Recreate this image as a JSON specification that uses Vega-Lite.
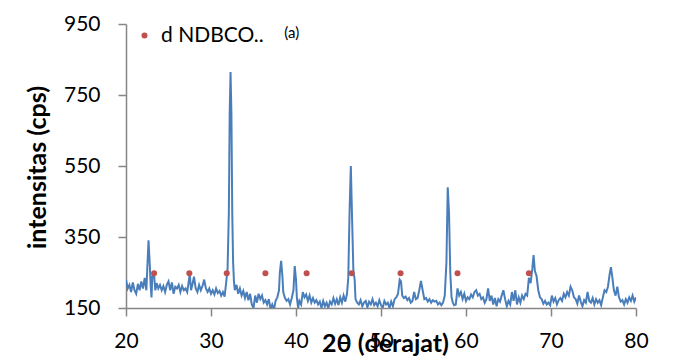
{
  "$schema": "https://vega.github.io/schema/vega-lite/v6.json",
  "width": 510,
  "height": 284,
  "autosize": {"type": "none"},
  "padding": {"left": 126, "top": 24, "right": 40, "bottom": 51},
  "background": "white",
  "config": {
    "view": {"stroke": null},
    "font": "Lato",
    "axis": {"domainColor": "#868686", "tickColor": "#868686", "domainWidth": 1.5, "tickWidth": 1.5, "grid": false, "labelColor": "#000000", "titleColor": "#000000", "labelFont": "Lato", "titleFont": "Lato", "labelFontSize": 21, "titleFontSize": 25, "titleFontWeight": "bold", "tickSize": 8}
  },
  "datasets": {
    "xrd": [
      {"t":20.0,"i":230},{"t":20.2,"i":205},{"t":20.4,"i":215},{"t":20.6,"i":195},{"t":20.8,"i":222},{"t":21.0,"i":200},{"t":21.2,"i":190},{"t":21.4,"i":218},{"t":21.6,"i":200},{"t":21.8,"i":225},{"t":22.0,"i":205},{"t":22.2,"i":235},{"t":22.4,"i":200},{"t":22.5,"i":260},{"t":22.65,"i":341},{"t":22.8,"i":270},{"t":22.9,"i":215},{"t":23.0,"i":180},{"t":23.1,"i":240},{"t":23.3,"i":245},{"t":23.45,"i":200},{"t":23.6,"i":220},{"t":23.8,"i":205},{"t":24.0,"i":215},{"t":24.2,"i":200},{"t":24.4,"i":212},{"t":24.6,"i":195},{"t":24.8,"i":215},{"t":25.0,"i":225},{"t":25.2,"i":200},{"t":25.4,"i":222},{"t":25.6,"i":190},{"t":25.8,"i":210},{"t":26.0,"i":205},{"t":26.2,"i":215},{"t":26.4,"i":195},{"t":26.6,"i":212},{"t":26.8,"i":200},{"t":27.0,"i":205},{"t":27.2,"i":195},{"t":27.35,"i":220},{"t":27.5,"i":245},{"t":27.65,"i":200},{"t":27.8,"i":215},{"t":28.0,"i":238},{"t":28.2,"i":205},{"t":28.4,"i":195},{"t":28.6,"i":215},{"t":28.8,"i":200},{"t":29.0,"i":212},{"t":29.2,"i":230},{"t":29.4,"i":205},{"t":29.6,"i":195},{"t":29.8,"i":205},{"t":30.0,"i":190},{"t":30.2,"i":200},{"t":30.4,"i":188},{"t":30.6,"i":205},{"t":30.8,"i":192},{"t":31.0,"i":198},{"t":31.2,"i":185},{"t":31.4,"i":195},{"t":31.6,"i":182},{"t":31.8,"i":225},{"t":31.95,"i":260},{"t":32.1,"i":420},{"t":32.2,"i":700},{"t":32.3,"i":815},{"t":32.4,"i":700},{"t":32.5,"i":420},{"t":32.6,"i":280},{"t":32.7,"i":225},{"t":32.8,"i":200},{"t":33.0,"i":215},{"t":33.2,"i":190},{"t":33.4,"i":205},{"t":33.6,"i":185},{"t":33.8,"i":198},{"t":34.0,"i":178},{"t":34.2,"i":195},{"t":34.4,"i":172},{"t":34.6,"i":190},{"t":34.8,"i":160},{"t":35.0,"i":150},{"t":35.2,"i":185},{"t":35.4,"i":165},{"t":35.6,"i":190},{"t":35.8,"i":175},{"t":36.0,"i":185},{"t":36.2,"i":165},{"t":36.4,"i":172},{"t":36.6,"i":160},{"t":36.8,"i":175},{"t":37.0,"i":148},{"t":37.2,"i":160},{"t":37.4,"i":145},{"t":37.6,"i":170},{"t":37.8,"i":180},{"t":38.0,"i":200},{"t":38.1,"i":250},{"t":38.25,"i":283},{"t":38.4,"i":240},{"t":38.5,"i":195},{"t":38.7,"i":178},{"t":38.9,"i":170},{"t":39.1,"i":175},{"t":39.3,"i":160},{"t":39.5,"i":178},{"t":39.7,"i":200},{"t":39.85,"i":268},{"t":40.0,"i":230},{"t":40.1,"i":180},{"t":40.25,"i":150},{"t":40.4,"i":170},{"t":40.6,"i":160},{"t":40.8,"i":195},{"t":41.0,"i":180},{"t":41.2,"i":188},{"t":41.4,"i":170},{"t":41.6,"i":185},{"t":41.8,"i":165},{"t":42.0,"i":178},{"t":42.2,"i":165},{"t":42.4,"i":172},{"t":42.6,"i":160},{"t":42.8,"i":168},{"t":43.0,"i":150},{"t":43.2,"i":170},{"t":43.4,"i":155},{"t":43.6,"i":165},{"t":43.8,"i":150},{"t":44.0,"i":168},{"t":44.2,"i":160},{"t":44.4,"i":178},{"t":44.6,"i":162},{"t":44.8,"i":175},{"t":45.0,"i":158},{"t":45.2,"i":180},{"t":45.4,"i":165},{"t":45.6,"i":185},{"t":45.8,"i":168},{"t":46.0,"i":190},{"t":46.15,"i":235},{"t":46.3,"i":420},{"t":46.45,"i":550},{"t":46.6,"i":400},{"t":46.75,"i":255},{"t":46.9,"i":230},{"t":47.0,"i":175},{"t":47.2,"i":165},{"t":47.4,"i":160},{"t":47.6,"i":172},{"t":47.8,"i":155},{"t":48.0,"i":165},{"t":48.2,"i":170},{"t":48.4,"i":152},{"t":48.6,"i":168},{"t":48.8,"i":160},{"t":49.0,"i":175},{"t":49.2,"i":158},{"t":49.4,"i":165},{"t":49.6,"i":155},{"t":49.8,"i":172},{"t":50.0,"i":158},{"t":50.2,"i":150},{"t":50.4,"i":170},{"t":50.6,"i":160},{"t":50.8,"i":165},{"t":51.0,"i":150},{"t":51.2,"i":168},{"t":51.4,"i":155},{"t":51.6,"i":175},{"t":51.8,"i":180},{"t":52.0,"i":190},{"t":52.2,"i":230},{"t":52.35,"i":225},{"t":52.5,"i":185},{"t":52.7,"i":178},{"t":52.9,"i":182},{"t":53.1,"i":172},{"t":53.3,"i":178},{"t":53.5,"i":165},{"t":53.7,"i":170},{"t":53.9,"i":195},{"t":54.1,"i":175},{"t":54.3,"i":178},{"t":54.5,"i":200},{"t":54.7,"i":226},{"t":54.9,"i":200},{"t":55.1,"i":175},{"t":55.3,"i":178},{"t":55.5,"i":168},{"t":55.7,"i":175},{"t":55.9,"i":165},{"t":56.1,"i":172},{"t":56.3,"i":168},{"t":56.5,"i":170},{"t":56.7,"i":160},{"t":56.9,"i":165},{"t":57.1,"i":158},{"t":57.3,"i":165},{"t":57.5,"i":185},{"t":57.7,"i":280},{"t":57.85,"i":490},{"t":58.0,"i":420},{"t":58.15,"i":250},{"t":58.3,"i":180},{"t":58.45,"i":165},{"t":58.6,"i":158},{"t":58.8,"i":160},{"t":59.0,"i":205},{"t":59.2,"i":185},{"t":59.4,"i":195},{"t":59.6,"i":175},{"t":59.8,"i":190},{"t":60.0,"i":170},{"t":60.2,"i":180},{"t":60.4,"i":175},{"t":60.6,"i":188},{"t":60.8,"i":180},{"t":61.0,"i":195},{"t":61.2,"i":200},{"t":61.4,"i":185},{"t":61.6,"i":190},{"t":61.8,"i":175},{"t":62.0,"i":180},{"t":62.2,"i":165},{"t":62.4,"i":175},{"t":62.6,"i":205},{"t":62.8,"i":170},{"t":63.0,"i":185},{"t":63.2,"i":160},{"t":63.4,"i":178},{"t":63.6,"i":155},{"t":63.8,"i":175},{"t":64.0,"i":168},{"t":64.2,"i":185},{"t":64.4,"i":200},{"t":64.6,"i":175},{"t":64.8,"i":155},{"t":65.0,"i":170},{"t":65.2,"i":160},{"t":65.4,"i":195},{"t":65.6,"i":170},{"t":65.8,"i":200},{"t":66.0,"i":160},{"t":66.2,"i":180},{"t":66.4,"i":165},{"t":66.6,"i":185},{"t":66.8,"i":175},{"t":67.0,"i":190},{"t":67.2,"i":185},{"t":67.4,"i":235},{"t":67.6,"i":220},{"t":67.8,"i":260},{"t":67.95,"i":299},{"t":68.1,"i":255},{"t":68.3,"i":240},{"t":68.5,"i":200},{"t":68.7,"i":180},{"t":68.9,"i":175},{"t":69.1,"i":162},{"t":69.3,"i":170},{"t":69.5,"i":160},{"t":69.7,"i":165},{"t":69.9,"i":158},{"t":70.1,"i":185},{"t":70.3,"i":168},{"t":70.5,"i":178},{"t":70.7,"i":160},{"t":70.9,"i":172},{"t":71.1,"i":178},{"t":71.3,"i":170},{"t":71.5,"i":190},{"t":71.7,"i":180},{"t":71.9,"i":195},{"t":72.1,"i":185},{"t":72.3,"i":210},{"t":72.5,"i":200},{"t":72.7,"i":180},{"t":72.9,"i":175},{"t":73.1,"i":162},{"t":73.3,"i":185},{"t":73.5,"i":168},{"t":73.7,"i":155},{"t":73.9,"i":172},{"t":74.1,"i":165},{"t":74.3,"i":195},{"t":74.5,"i":170},{"t":74.7,"i":165},{"t":74.9,"i":178},{"t":75.1,"i":160},{"t":75.3,"i":175},{"t":75.5,"i":165},{"t":75.7,"i":172},{"t":75.9,"i":158},{"t":76.1,"i":180},{"t":76.3,"i":200},{"t":76.5,"i":195},{"t":76.7,"i":210},{"t":76.9,"i":245},{"t":77.05,"i":265},{"t":77.2,"i":240},{"t":77.4,"i":200},{"t":77.6,"i":185},{"t":77.8,"i":210},{"t":78.0,"i":180},{"t":78.2,"i":168},{"t":78.4,"i":172},{"t":78.6,"i":160},{"t":78.8,"i":175},{"t":79.0,"i":165},{"t":79.2,"i":180},{"t":79.4,"i":170},{"t":79.6,"i":185},{"t":79.8,"i":168},{"t":80.0,"i":180}
    ],
    "marks": [
      {"t":23.3,"i":248,"s":"d NDBCO.."},{"t":27.45,"i":248,"s":"d NDBCO.."},{"t":31.85,"i":248,"s":"d NDBCO.."},{"t":36.4,"i":248,"s":"d NDBCO.."},{"t":41.25,"i":248,"s":"d NDBCO.."},{"t":46.55,"i":248,"s":"d NDBCO.."},{"t":52.3,"i":248,"s":"d NDBCO.."},{"t":59.0,"i":248,"s":"d NDBCO.."},{"t":67.4,"i":248,"s":"d NDBCO.."}
    ]
  },
  "layer": [
    {
      "data": {"name": "xrd"},
      "mark": {"type": "line", "color": "#4a7ebb", "strokeWidth": 2, "clip": true},
      "encoding": {
        "x": {"field": "t", "type": "quantitative", "scale": {"domain": [20, 80], "nice": false}, "axis": {"values": [20,30,40,50,60,70,80], "title": "2θ (derajat)", "labelPadding": 14, "titleX": 259, "titleY": 35, "titleBaseline": "middle", "titleAnchor": "middle", "labelFlush": false}},
        "y": {"field": "i", "type": "quantitative", "scale": {"domain": [150, 950], "nice": false}, "axis": {"values": [150,350,550,750,950], "title": "intensitas (cps)", "labelPadding": 18, "titleX": -89, "titleY": 143, "titleBaseline": "middle", "titleAnchor": "middle", "titleAngle": -90, "labelFlush": false}}
      }
    },
    {
      "data": {"name": "marks"},
      "mark": {"type": "point", "filled": true, "shape": "circle", "size": 36, "opacity": 1},
      "encoding": {
        "x": {"field": "t", "type": "quantitative"},
        "y": {"field": "i", "type": "quantitative"},
        "color": {"field": "s", "type": "nominal", "scale": {"range": ["#c0504d"]}, "legend": {"title": null, "orient": "none", "legendX": 8, "legendY": 1, "labelFontSize": 21, "labelFont": "Lato", "labelColor": "#000000", "symbolSize": 36, "labelOffset": 6, "symbolType": "circle"}}
      }
    },
    {
      "data": {"values": [{"label": "(a)"}]},
      "mark": {"type": "text", "fontSize": 15, "font": "Lato", "color": "#000000", "align": "center", "baseline": "middle"},
      "encoding": {
        "x": {"datum": 39.5},
        "y": {"datum": 924},
        "text": {"field": "label", "type": "nominal"}
      }
    }
  ]
}
